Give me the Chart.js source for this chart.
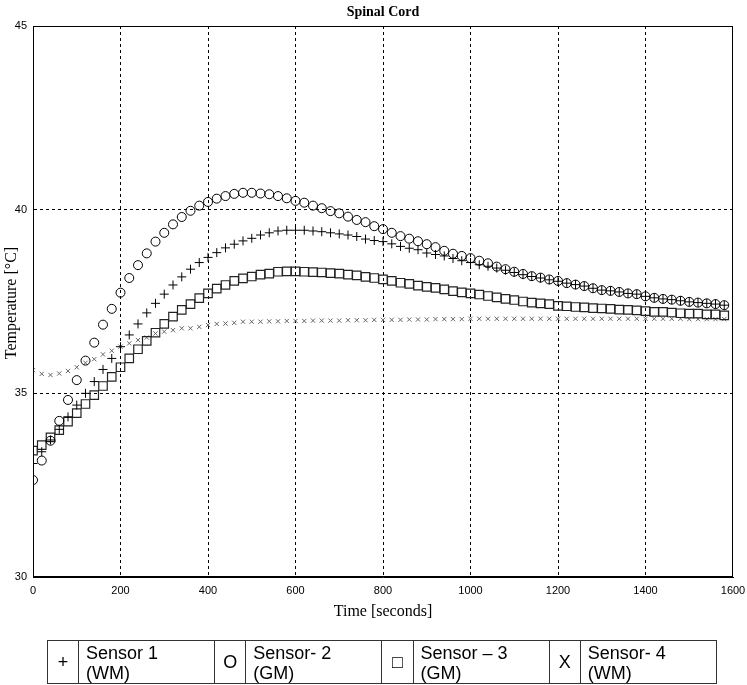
<!DOCTYPE html>
<html>
<head>
<meta charset="utf-8">
<script src="https://cdn.jsdelivr.net/npm/chart.js@4.4.0/dist/chart.umd.min.js"></script>
<style>
  body { margin: 0; background: #fff; }
  #wrap { position: relative; width: 747px; height: 685px; overflow: hidden; }
  #wrap canvas { position: absolute; left: 0; top: 0; }
  #legend {
    position: absolute; left: 47px; top: 640px; width: 670px;
    border-collapse: collapse; table-layout: fixed;
    font-family: "Liberation Sans", Arial, sans-serif;
    font-size: 18px; line-height: 20px; color: #000;
  }
  #legend td { border: 1px solid #333; padding: 0; height: 42px; box-sizing: border-box; }
  #legend td.sym { width: 31px; text-align: center; font-size: 18px; }
  #legend td.txt { width: 136px; padding-left: 7px; vertical-align: top; padding-top: 2px; }
</style>
</head>
<body>
<div id="wrap">
  <canvas id="c" width="747" height="685"></canvas>
  <table id="legend"><tr id="legendRow"></tr></table>
</div>
<script>
// time in seconds, one sample every 20 s
const times = [];
for (let t = 0; t <= 1580; t += 20) times.push(t);

const sensor1 = [33.09, 33.41, 33.73, 34.02, 34.36, 34.68, 35.00, 35.32, 35.65, 35.95,
  36.27, 36.59, 36.89, 37.19, 37.45, 37.70, 37.95, 38.17, 38.38, 38.56,
  38.70, 38.83, 38.96, 39.06, 39.15, 39.22, 39.31, 39.37, 39.42, 39.44,
  39.44, 39.44, 39.42, 39.40, 39.37, 39.34, 39.31, 39.27, 39.20, 39.16,
  39.13, 39.07, 39.00, 38.95, 38.91, 38.82, 38.78, 38.74, 38.67, 38.61,
  38.56, 38.50, 38.46, 38.41, 38.35, 38.29, 38.23, 38.18, 38.14, 38.09,
  38.05, 38.00, 37.96, 37.92, 37.86, 37.81, 37.79, 37.76, 37.72, 37.70,
  37.64, 37.60, 37.57, 37.55, 37.52, 37.49, 37.47, 37.45, 37.43, 37.40];

const sensor2 = [32.64, 33.17, 33.71, 34.25, 34.82, 35.36, 35.89, 36.38, 36.87, 37.30,
  37.74, 38.14, 38.49, 38.81, 39.13, 39.37, 39.60, 39.80, 39.97, 40.11,
  40.21, 40.30, 40.37, 40.43, 40.46, 40.46, 40.44, 40.42, 40.37, 40.31,
  40.24, 40.19, 40.11, 40.04, 39.96, 39.90, 39.81, 39.72, 39.66, 39.55,
  39.47, 39.37, 39.28, 39.21, 39.14, 39.06, 38.98, 38.88, 38.80, 38.74,
  38.68, 38.61, 38.54, 38.45, 38.38, 38.31, 38.25, 38.19, 38.15, 38.10,
  38.06, 38.00, 37.96, 37.92, 37.86, 37.81, 37.79, 37.76, 37.72, 37.70,
  37.64, 37.60, 37.57, 37.55, 37.52, 37.49, 37.47, 37.45, 37.43, 37.40];

const sensor3 = [33.44, 33.59, 33.80, 34.00, 34.23, 34.46, 34.71, 34.95, 35.20, 35.45,
  35.71, 35.95, 36.20, 36.43, 36.65, 36.89, 37.09, 37.27, 37.43, 37.59,
  37.72, 37.85, 37.95, 38.06, 38.13, 38.18, 38.23, 38.26, 38.31, 38.32,
  38.32, 38.31, 38.30, 38.29, 38.27, 38.26, 38.23, 38.21, 38.17, 38.14,
  38.10, 38.06, 38.01, 37.98, 37.93, 37.90, 37.87, 37.83, 37.78, 37.75,
  37.72, 37.69, 37.65, 37.61, 37.57, 37.54, 37.50, 37.47, 37.45, 37.43,
  37.38, 37.37, 37.35, 37.34, 37.32, 37.31, 37.30, 37.28, 37.27, 37.26,
  37.24, 37.22, 37.22, 37.20, 37.18, 37.17, 37.17, 37.15, 37.15, 37.12];

const sensor4 = [35.63, 35.53, 35.50, 35.54, 35.61, 35.71, 35.83, 35.93, 36.06, 36.16,
  36.27, 36.36, 36.45, 36.52, 36.63, 36.68, 36.72, 36.77, 36.77, 36.81,
  36.86, 36.89, 36.90, 36.92, 36.95, 36.95, 36.95, 36.96, 36.96, 36.97,
  36.97, 36.97, 36.98, 36.98, 36.98, 36.98, 36.99, 36.99, 36.99, 37.00,
  37.00, 37.00, 37.00, 37.01, 37.01, 37.01, 37.02, 37.02, 37.02, 37.02,
  37.03, 37.03, 37.03, 37.03, 37.03, 37.03, 37.03, 37.03, 37.03, 37.03,
  37.03, 37.03, 37.03, 37.03, 37.03, 37.03, 37.03, 37.03, 37.03, 37.03,
  37.03, 37.03, 37.03, 37.03, 37.03, 37.02, 37.02, 37.02, 37.02, 37.02];

const xTicks = [0, 200, 400, 600, 800, 1000, 1200, 1400, 1600];
const yTicks = [30, 35, 40, 45];

const legendSymbols = ["+", "O", "\u25A1", "X"];
const legendNames = [["Sensor 1", "(WM)"], ["Sensor- 2", "(GM)"], ["Sensor \u2013 3", "(GM)"], ["Sensor- 4", "(WM)"]];

const row = document.getElementById("legendRow");
legendSymbols.forEach((s, i) => {
    const a = document.createElement("td");
    a.className = "sym";
    a.textContent = s;
    const b = document.createElement("td");
    b.className = "txt";
    b.innerHTML = legendNames[i].join("<br>");
    row.appendChild(a);
    row.appendChild(b);
});

const pts = arr => arr.map((v, i) => ({ x: times[i], y: v }));

const texts = {
    id: "texts",
    afterDraw(chart) {
        const { ctx, chartArea: a } = chart;
        ctx.save();
        ctx.strokeStyle = "#000";
        ctx.lineWidth = 1;
        ctx.strokeRect(a.left + 0.5, a.top + 0.5, a.right - a.left - 1, a.bottom - a.top - 1);
        ctx.fillStyle = "#000";
        ctx.textAlign = "center";
        ctx.textBaseline = "middle";
        const cx = (a.left + a.right) / 2;
        ctx.font = "bold 14px 'Liberation Serif', 'Times New Roman', serif";
        ctx.fillText("Spinal Cord", cx, 12);
        ctx.font = "16px 'Liberation Serif', 'Times New Roman', serif";
        ctx.fillText("Time [seconds]", cx, 612);
        ctx.translate(12, 303);
        ctx.rotate(-Math.PI / 2);
        ctx.fillText("Temperature [\u00B0C]", 0, 0);
        ctx.restore();
    }
};

const edge = (v, lo, hi) => (v === lo || v === hi) ? "rgba(0,0,0,0)" : "#000";
const tickFont = { family: "'Liberation Sans', Arial, sans-serif", size: 11 };

new Chart(document.getElementById("c"), {
    type: "scatter",
    data: {
        datasets: [
            { label: "Sensor 1 (WM)", data: pts(sensor1), pointStyle: "cross", pointRadius: 4.5,
              borderColor: "#000", borderWidth: 1 },
            { label: "Sensor- 2 (GM)", data: pts(sensor2), pointStyle: "circle", pointRadius: 4.5,
              borderColor: "#000", backgroundColor: "rgba(0,0,0,0)", borderWidth: 1 },
            { label: "Sensor \u2013 3 (GM)", data: pts(sensor3), pointStyle: "rect", pointRadius: 6,
              borderColor: "#222", backgroundColor: "rgba(0,0,0,0)", borderWidth: 1.2 },
            { label: "Sensor- 4 (WM)", data: pts(sensor4), pointStyle: "crossRot", pointRadius: 3,
              borderColor: "#666", borderWidth: 1 }
        ]
    },
    options: {
        responsive: false,
        animation: false,
        events: [],
        layout: { padding: { left: 0, top: 26, right: 14, bottom: 0 } },
        plugins: { legend: { display: false }, tooltip: { enabled: false }, title: { display: false } },
        scales: {
            x: {
                type: "linear", min: 0, max: 1600,
                afterFit: s => { s.height = 108; s.paddingRight = 0; s.paddingLeft = 0; },
                afterBuildTicks: s => { s.ticks = xTicks.map(v => ({ value: v })); },
                grid: { color: c => edge(c.tick.value, 0, 1600), drawTicks: false, lineWidth: 1 },
                border: { color: "#000", dash: [3, 3] },
                ticks: { padding: 7, color: "#000", font: tickFont, maxRotation: 0, callback: v => String(v) }
            },
            y: {
                type: "linear", min: 30, max: 45,
                afterFit: s => { s.width = 33; s.paddingTop = 0; s.paddingBottom = 0; },
                afterBuildTicks: s => { s.ticks = yTicks.map(v => ({ value: v })); },
                grid: { color: c => edge(c.tick.value, 30, 45), drawTicks: false, lineWidth: 1 },
                border: { color: "#000", dash: [3, 3] },
                ticks: { padding: 6, color: "#000", font: tickFont, callback: v => String(v) }
            }
        }
    },
    plugins: [texts]
});
</script>
</body>
</html>
